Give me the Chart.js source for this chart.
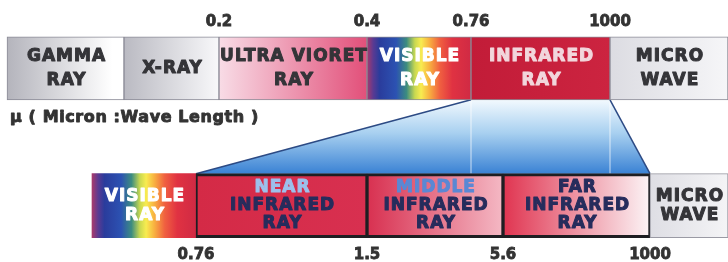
<!DOCTYPE html>
<html>
<head>
<meta charset="utf-8">
<script src="https://cdn.jsdelivr.net/npm/chart.js@4.4.1/dist/chart.umd.min.js"></script>
<style>
html, body { margin: 0; padding: 0; background: #fff; }
</style>
</head>
<body>
<canvas id="chart1" width="728" height="262"></canvas>
<script>
// band names and where each band starts/ends on the diagram strip
var topBands = ['GAMMA\nRAY', 'X-RAY', 'ULTRA VIORET\nRAY', 'VISIBLE\nRAY', 'INFRARED\nRAY', 'MICRO\nWAVE'];
var topEdges = [7, 124, 219, 367, 471, 610, 728];
var topTicks = ['', '', '0.2', '0.4', '0.76', '1000', ''];

var bottomBands = ['VISIBLE\nRAY', 'NEAR\nINFRARED\nRAY', 'MIDDLE\nINFRARED\nRAY', 'FAR\nINFRARED\nRAY', 'MICRO\nWAVE'];
var bottomEdges = [92, 196, 367, 503, 650, 728];
var bottomTicks = ['', '0.76', '1.5', '5.6', '1000', ''];

var unitLabel = 'μ ( Micron :Wave Length )';
var zoomedBand = 4;          // INFRARED in the top row
var zoomedRange = [1, 3];    // NEAR..FAR in the bottom row

var spectrum = [[0, '#a83a6c'], [0.06, '#5a3a92'], [0.12, '#2a3c9c'], [0.28, '#2c52b2'], [0.38, '#3c8c80'],
    [0.46, '#c8d850'], [0.52, '#f8ec50'], [0.6, '#f8b040'], [0.7, '#f06040'], [0.82, '#e03242'], [1, '#d02a44']];

var topFills = [
    [[0, '#b4b4bc'], [0.9, '#ffffff'], [1, '#ffffff']],
    [[0, '#babac2'], [1, '#f8f8fa']],
    [[0, '#f8dce6'], [1, '#e2507a']],
    spectrum,
    [[0, '#c21c38'], [1, '#cc2440']],
    [[0, '#dcdce2'], [1, '#f6f6f8']]
];
var bottomFills = [
    spectrum,
    [[0, '#d42a46'], [1, '#d83050']],
    [[0, '#d83050'], [1, '#f4b8c4']],
    [[0, '#e03450'], [1, '#fcf4f6']],
    [[0, '#dedee4'], [1, '#f4f4f6']]
];
var topTextColors = [['#343438'], ['#343438'], ['#343438'], ['#ffffff'], ['#f2d6dc'], ['#343438']];
var bottomTextColors = [['#ffffff'], ['#9cc0ec', '#262c5c'], ['#5a88d4', '#262c5c'], ['#262c5c'], ['#343438']];

function spans(edges, row) {
    return edges.slice(0, -1).map(function(e, i) {
        return { x: [e, edges[i + 1]], y: row };
    });
}

function bandFill(fills, fallback) {
    return function(c) {
        if (c.type !== 'data' || !c.chart.chartArea) return fallback;
        var sx = c.chart.scales.x;
        var x0 = sx.getPixelForValue(c.raw.x[0]), x1 = sx.getPixelForValue(c.raw.x[1]);
        var g = c.chart.ctx.createLinearGradient(x0, 0, x1, 0);
        fills[c.dataIndex].forEach(function(s) { g.addColorStop(s[0], s[1]); });
        return g;
    };
}

function tickAxis(position, edges, labels, pad, h) {
    return {
        type: 'linear', position: position, min: 0, max: 728,
        grid: { display: false, drawTicks: false },
        border: { display: false },
        afterFit: function(s) { s.height = h; },
        afterBuildTicks: function(s) {
            s.ticks = edges.filter(function(e, i) { return labels[i]; }).map(function(e) { return { value: e }; });
        },
        ticks: {
            autoSkip: false, maxRotation: 0, padding: pad, color: '#333',
            textStrokeColor: '#333', textStrokeWidth: 0.8,
            font: { family: 'DejaVu Sans', size: 15, weight: 'bold' },
            callback: function(v) { return labels[edges.indexOf(v)]; }
        }
    };
}

var zoomPlugin = {
    id: 'zoomBand',
    beforeDatasetsDraw: function(chart) {
        var ctx = chart.ctx;
        var t = chart.getDatasetMeta(0).data[zoomedBand].getProps(['x', 'base', 'y', 'height'], true);
        var bl = chart.getDatasetMeta(1).data[zoomedRange[0]].getProps(['x', 'base', 'y', 'height'], true);
        var br = chart.getDatasetMeta(1).data[zoomedRange[1]].getProps(['x', 'base', 'y', 'height'], true);
        var y0 = t.y + t.height / 2, y1 = bl.y - bl.height / 2;
        var g = ctx.createLinearGradient(0, y0, 0, y1);
        g.addColorStop(0, '#f2f9fe');
        g.addColorStop(0.45, '#a8d0f0');
        g.addColorStop(1, '#3a82d4');
        ctx.save();
        ctx.beginPath();
        ctx.moveTo(t.base, y0);
        ctx.lineTo(t.x, y0);
        ctx.lineTo(br.x, y1);
        ctx.lineTo(bl.base, y1);
        ctx.closePath();
        ctx.fillStyle = g;
        ctx.fill();
        ctx.strokeStyle = 'rgba(255,255,255,0.7)';
        ctx.lineWidth = 1;
        [t.base, t.x].forEach(function(x) {
            ctx.beginPath(); ctx.moveTo(x, y0); ctx.lineTo(x, y1); ctx.stroke();
        });
        ctx.strokeStyle = '#2c4a84';
        ctx.lineWidth = 1.5;
        ctx.beginPath(); ctx.moveTo(t.base, y0); ctx.lineTo(bl.base, y1); ctx.stroke();
        ctx.beginPath(); ctx.moveTo(t.x, y0); ctx.lineTo(br.x, y1); ctx.stroke();
        ctx.restore();
    }
};

function heavyText(ctx, txt, x, y, color, size, spacing) {
    ctx.letterSpacing = spacing;
    ctx.font = 'bold ' + size + 'px "DejaVu Sans"';
    ctx.fillStyle = color;
    ctx.strokeStyle = color;
    ctx.strokeText(txt, x, y);
    ctx.fillText(txt, x, y);
}

var labelPlugin = {
    id: 'bandLabels',
    afterDatasetsDraw: function(chart) {
        var ctx = chart.ctx;
        ctx.save();
        ctx.lineWidth = 1;
        ctx.lineJoin = 'round';
        ctx.textAlign = 'center';
        ctx.textBaseline = 'middle';
        [[topBands, topTextColors, 24.5], [bottomBands, bottomTextColors, 19]].forEach(function(row, d) {
            chart.getDatasetMeta(d).data.forEach(function(el, i) {
                var p = el.getProps(['x', 'base', 'y'], true);
                var lines = row[0][i].split('\n');
                var step = lines.length === 3 ? 18 : row[2];
                var cx = (p.x + p.base) / 2 + 1;
                lines.forEach(function(txt, k) {
                    var cols = row[1][i];
                    heavyText(ctx, txt, cx, p.y + (k - (lines.length - 1) / 2) * step,
                        cols[Math.min(k, cols.length - 1)], 17, '1px');
                });
            });
        });
        ctx.lineWidth = 0.9;
        ctx.textAlign = 'left';
        heavyText(ctx, unitLabel, 10, 118, '#333', 16, '0.6px');
        ctx.restore();
    }
};

var ctx1 = document.getElementById('chart1').getContext('2d');
new Chart(ctx1, {
    type: 'bar',
    plugins: [zoomPlugin, labelPlugin],
    data: {
        labels: ['top', 'zoom', 'bottom'],
        datasets: [{
            data: spans(topEdges, 'top'),
            backgroundColor: bandFill(topFills, '#ccc'),
            borderColor: '#8a8a96',
            borderWidth: 1,
            borderSkipped: false,
            barThickness: 63,
            grouped: false
        }, {
            data: spans(bottomEdges, 'bottom'),
            backgroundColor: bandFill(bottomFills, '#ccc'),
            borderColor: ['#b07090', '#1e1e22', '#1e1e22', '#1e1e22', '#9a9aa4'],
            borderWidth: [0, { top: 3, bottom: 3, left: 2, right: 2 }, { top: 3, bottom: 3, left: 2, right: 2 },
                { top: 3, bottom: 3, left: 2, right: 2 }, 1],
            borderSkipped: false,
            barThickness: 64,
            grouped: false
        }]
    },
    options: {
        indexAxis: 'y',
        responsive: false,
        animation: false,
        layout: { padding: 0 },
        plugins: { legend: { display: false }, tooltip: { enabled: false } },
        scales: {
            y: { type: 'category', display: false },
            x: tickAxis('bottom', bottomEdges, bottomTicks, 6, 22),
            xTop: tickAxis('top', topEdges, topTicks, 3, 34)
        }
    }
});
</script>
</body>
</html>
